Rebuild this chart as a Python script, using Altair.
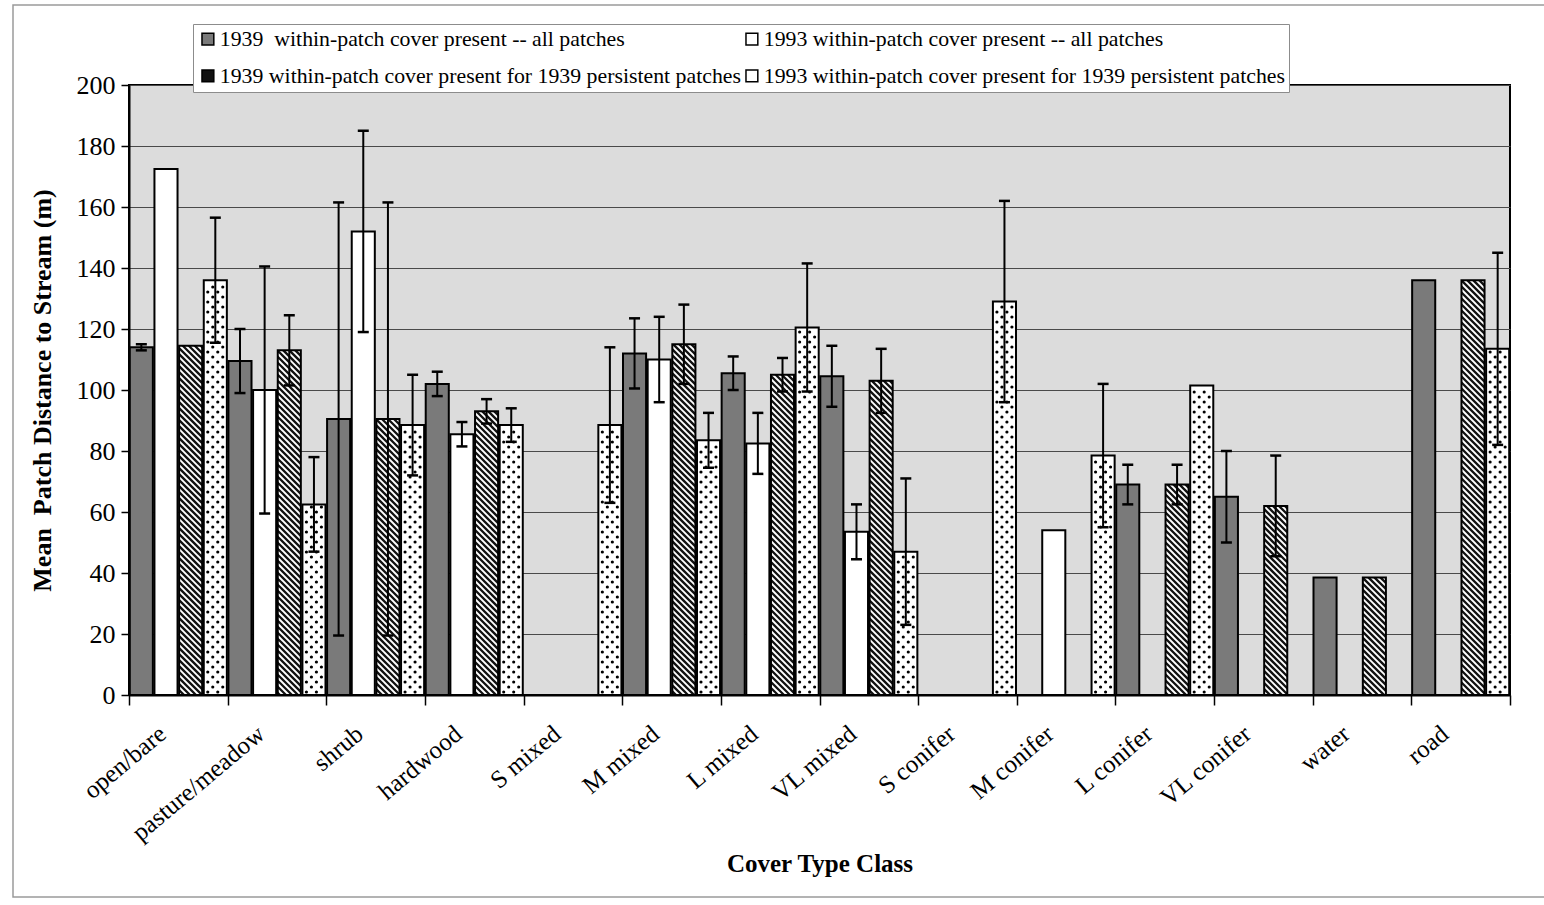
import math
import altair as alt
import pandas as pd

# ---- data -------------------------------------------------------------
categories = ["open/bare", "pasture/meadow", "shrub", "hardwood", "S mixed",
              "M mixed", "L mixed", "VL mixed", "S conifer", "M conifer",
              "L conifer", "VL conifer", "water", "road"]

series = ["1939\u00a0 within-patch cover present -- all patches",
          "1993 within-patch cover present -- all patches",
          "1939 within-patch cover present for 1939 persistent patches",
          "1993 within-patch cover present for 1939 persistent patches"]

# mean patch distance to stream (m) and error half-widths; None = no value
mean_1939_all = [114, 109.5, 90.5, 102, None, 112, 105.5, 104.5, None, None, 69, 65, 38.5, 136]
err_1939_all = [1, 10.5, 71, 4, None, 11.5, 5.5, 10, None, None, 6.5, 15, None, None]

mean_1993_all = [172.5, 100, 152, 85.5, None, 110, 82.5, 53.5, None, 54, None, None, None, None]
err_1993_all = [None, 40.5, 33, 4, None, 14, 10, 9, None, None, None, None, None, None]

mean_1939_persist = [114.5, 113, 90.5, 93, None, 115, 105, 103, None, None, 69, 62, 38.5, 136]
err_1939_persist = [None, 11.5, 71, 4, None, 13, 5.5, 10.5, None, None, 6.5, 16.5, None, None]

mean_1993_persist = [136, 62.5, 88.5, 88.5, 88.5, 83.5, 120.5, 47, 129, 78.5, 101.5, None, None, 113.5]
err_1993_persist = [20.5, 15.5, 16.5, 5.5, 25.5, 9, 21, 24, 33, 23.5, None, None, None, 31.5]

y_ticks = list(range(0, 201, 20))

means = [mean_1939_all, mean_1993_all, mean_1939_persist, mean_1993_persist]
errs = [err_1939_all, err_1993_all, err_1939_persist, err_1993_persist]
fills = ["#7a7a7a", "#ffffff", "#111111", "#ffffff"]

# ---- geometry of the plot area ------------------------------------------
W, H = 1381, 610
NCAT = len(categories)
KX = W / NCAT          # px per category
KY = H / 200.0         # px per metre
INSET = 0.008          # small gap between neighbouring bars (category units)

bar_rows, err_rows = [], []
for j, (vals, es) in enumerate(zip(means, errs)):
    for i, v in enumerate(vals):
        if v is None:
            continue
        x0 = i + j / 4 + INSET
        x1 = i + (j + 1) / 4 - INSET
        bar_rows.append(dict(series=series[j], s=j, x0=x0, x1=x1, value=v, base=0))
        e = es[i]
        if e is not None:
            xc = i + (j + 0.5) / 4
            cap = 5.5 / KX
            err_rows.append(dict(xc=xc, lo=v - e, hi=v + e,
                                 c0=xc - cap, c1=xc + cap))
bars = pd.DataFrame(bar_rows)
errbars = pd.DataFrame(err_rows)

# hatching (white diagonal stripes over the black persistent-1939 bars)
P = 6.0
hatch_rows = []
for r in bar_rows:
    if r["s"] != 2:
        continue
    X0, X1 = r["x0"] * KX, r["x1"] * KX
    Yt, Yb = H - r["value"] * KY, H
    k0 = math.ceil((Yt - X1) / P)
    k1 = math.floor((Yb - X0) / P)
    for k in range(k0, k1 + 1):
        c = k * P
        xa = max(X0, Yt - c)
        xb = min(X1, Yb - c)
        if xb - xa > 0.3:
            hatch_rows.append(dict(xa=xa / KX, ya=(H - (xa + c)) / KY,
                                   xb=xb / KX, yb=(H - (xb + c)) / KY))
hatch = pd.DataFrame(hatch_rows)

# stippling (black dots over the white persistent-1993 bars)
dot_rows = []
for r in bar_rows:
    if r["s"] != 3:
        continue
    X0, X1 = r["x0"] * KX, r["x1"] * KX
    Yt = H - r["value"] * KY
    k = 0
    Y = H - 3
    while Y >= Yt + 2:
        X = X0 + 4 + (k % 2) * 5
        while X <= X1 - 2.5:
            dot_rows.append(dict(xd=X / KX, yd=(H - Y) / KY))
            X += 10
        k += 1
        Y -= 5
dots = pd.DataFrame(dot_rows)

# ---- scales & axes ------------------------------------------------------
FONT = "Liberation Serif"
xscale = alt.Scale(domain=[0, NCAT], nice=False, zero=False)
yscale = alt.Scale(domain=[0, 200], nice=False)

names_js = "[" + ",".join("'" + c + "'" for c in categories) + "]"
xaxis = alt.Axis(
    values=list(range(NCAT + 1)),
    labelExpr=f"datum.value < {NCAT} ? {names_js}[datum.value] : ''",
    labelAngle=-40, labelAlign="right", labelBaseline="middle",
    labelOffset=33, labelPadding=25, labelFont=FONT, labelFontSize=25,
    labelColor="black", labelLimit=400, labelOverlap=False, labelFlush=False,
    tickSize=10, tickColor="black", tickWidth=1.5,
    domainColor="black", domainWidth=2, grid=False,
    title="Cover Type Class", titleFont=FONT, titleFontSize=25,
    titleFontWeight="bold", titleColor="black",
    titleBaseline="alphabetic", titleY=176,
)
yaxis = alt.Axis(
    values=y_ticks, labelFont=FONT, labelFontSize=26, labelColor="black",
    labelPadding=6, tickSize=8, tickColor="black", tickWidth=1.5,
    domainColor="black", domainWidth=2,
    grid=True, gridColor="#4a4a4a", gridWidth=1,
    title="Mean\u00a0 Patch Distance to Stream (m)", titleFont=FONT,
    titleFontSize=26, titleFontWeight="bold", titleColor="black",
    titleX=-87, titleY=H / 2, titleBaseline="middle", titleAngle=-90,
)


def X(field):
    return alt.X(field, type="quantitative", scale=xscale, axis=xaxis)


def Y(field):
    return alt.Y(field, type="quantitative", scale=yscale, axis=yaxis)


# legend entries are laid out column by column: 1939 entries in the first column
legend_order = [0, 2, 1, 3]

bar_fill = alt.Chart(bars).mark_rect(strokeWidth=0).encode(
    x=X("x0"), x2="x1", y=Y("value"), y2="base",
    fill=alt.Fill(
        "series:N", title=None,
        scale=alt.Scale(domain=[series[k] for k in legend_order],
                        range=[fills[k] for k in legend_order]),
        legend=alt.Legend(
            orient="none", legendX=64, legendY=-61, columns=2,
            fillColor="white", strokeColor="#8c8c8c", padding=4,
            symbolType="square", symbolSize=140, symbolStrokeColor="black",
            symbolStrokeWidth=1.5, labelFont=FONT, labelFontSize=21.8,
            labelColor="black", labelOffset=1, labelLimit=800,
            rowPadding=14, columnPadding=0,
        ),
    ),
)

hatch_layer = alt.Chart(hatch).mark_rule(color="white", strokeWidth=1.9).encode(
    x=X("xa"), x2="xb", y=Y("ya"), y2="yb"
)

dot_layer = alt.Chart(dots).mark_circle(color="black", size=10, opacity=1).encode(
    x=X("xd"), y=Y("yd")
)

bar_outline = alt.Chart(bars).mark_rect(
    fillOpacity=0, stroke="black", strokeWidth=2
).encode(x=X("x0"), x2="x1", y=Y("value"), y2="base")

err_stem = alt.Chart(errbars).mark_rule(color="black", strokeWidth=2).encode(
    x=X("xc"), y=Y("lo"), y2="hi"
)
err_cap_hi = alt.Chart(errbars).mark_rule(color="black", strokeWidth=2.5).encode(
    x=X("c0"), x2="c1", y=Y("hi")
)
err_cap_lo = alt.Chart(errbars).mark_rule(color="black", strokeWidth=2.5).encode(
    x=X("c0"), x2="c1", y=Y("lo")
)

# thin border around the whole chart area
frame = alt.Chart(pd.DataFrame({"f": [0]})).mark_rect(
    fillOpacity=0, stroke="#9a9a9a", strokeWidth=1.5
).encode(
    x=alt.value(-116), x2=alt.value(W + 80),
    y=alt.value(-80), y2=alt.value(812),
)

chart = alt.layer(
    frame, bar_fill, hatch_layer, dot_layer, bar_outline,
    err_stem, err_cap_hi, err_cap_lo,
).properties(
    width=W, height=H,
    autosize=alt.AutoSizeParams(type="none"),
    padding={"left": 129, "top": 85, "right": 34, "bottom": 210},
    background="white",
).configure_view(
    fill="#dcdcdc", stroke="black", strokeWidth=2
)

chart.save("out.html", embed_options={"renderer": "svg", "actions": False})
